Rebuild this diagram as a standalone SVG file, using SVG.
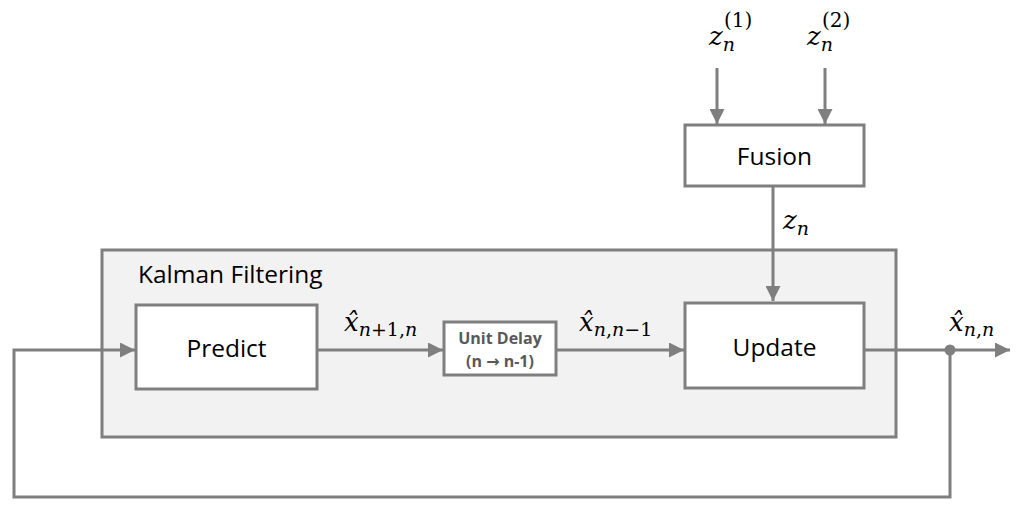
<svg xmlns="http://www.w3.org/2000/svg" width="1021" height="519" viewBox="0 0 1021 519">
<style>
.box{fill:#fff;stroke:#7f7f7f;stroke-width:3}
.ln{fill:none;stroke:#7f7f7f;stroke-width:3}
.lbl{font-family:"Open Sans","Liberation Sans",sans-serif;fill:#000}
.dl{font-family:"Open Sans","Liberation Sans",sans-serif;font-weight:bold;fill:#595959;font-size:16px}
.m{font-family:"DejaVu Serif","Liberation Serif",serif;font-style:italic;fill:#000}
.up{font-style:normal}
</style>
<defs>
<marker id="ah" markerWidth="5" markerHeight="5" refX="5" refY="2.5" orient="auto" markerUnits="strokeWidth">
<path d="M0,0 L5,2.5 L0,5 z" fill="#7f7f7f"/>
</marker>
</defs>
<g id="kalman">
<rect x="102" y="250" width="794" height="187" fill="#f2f2f2" stroke="#7f7f7f" stroke-width="3"/>
<text class="lbl" x="138" y="283" font-size="24.5">Kalman Filtering</text>
</g>
<g id="predict">
<rect class="box" x="136" y="305" width="181" height="84"/>
<text class="lbl" x="226.5" y="357" font-size="24.5" text-anchor="middle">Predict</text>
</g>
<g id="delay">
<rect class="box" x="444" y="322" width="112" height="53"/>
<text class="dl" x="500" y="344" text-anchor="middle">Unit Delay</text>
<text class="dl" x="500" y="367" text-anchor="middle">(n <tspan font-family="DejaVu Sans">→</tspan> n-1)</text>
</g>
<g id="update">
<rect class="box" x="685" y="303" width="179" height="85"/>
<text class="lbl" x="774.5" y="356" font-size="24.5" text-anchor="middle">Update</text>
</g>
<g id="fusion">
<rect class="box" x="685" y="125" width="179" height="61"/>
<text class="lbl" x="774.5" y="165" font-size="24.5" text-anchor="middle">Fusion</text>
</g>
<g id="connectors">
<line class="ln" x1="717" y1="68" x2="717" y2="124" marker-end="url(#ah)"/>
<line class="ln" x1="825" y1="68" x2="825" y2="124" marker-end="url(#ah)"/>
<line class="ln" x1="773" y1="187" x2="773" y2="301" marker-end="url(#ah)"/>
<line class="ln" x1="318" y1="350" x2="443" y2="350" marker-end="url(#ah)"/>
<line class="ln" x1="557" y1="350" x2="684" y2="350" marker-end="url(#ah)"/>
<line class="ln" x1="865" y1="350" x2="1010" y2="350" marker-end="url(#ah)"/>
<polyline class="ln" points="950,350 950,497 14,497 14,350 135,350" marker-end="url(#ah)"/>
<circle cx="950" cy="350" r="5.5" fill="#7f7f7f"/>
</g>
<g id="labels">
<text class="m" x="709" y="45" font-size="26">z<tspan font-size="19" dy="6">n</tspan><tspan class="up" font-size="20" dx="-11" dy="-24">(1)</tspan></text>
<text class="m" x="807" y="45" font-size="26">z<tspan font-size="19" dy="6">n</tspan><tspan class="up" font-size="20" dx="-11" dy="-24">(2)</tspan></text>
<text class="m" x="783" y="229" font-size="26">z<tspan font-size="19" dy="6">n</tspan></text>
<text class="m" x="344" y="331" font-size="26">x̂<tspan font-size="19" dy="5">n</tspan><tspan class="up" font-size="19">+1,</tspan><tspan font-size="19">n</tspan></text>
<text class="m" x="579" y="331" font-size="26">x̂<tspan font-size="19" dy="5">n</tspan><tspan class="up" font-size="19">,</tspan><tspan font-size="19">n</tspan><tspan class="up" font-size="19">−1</tspan></text>
<text class="m" x="949" y="331" font-size="26">x̂<tspan font-size="19" dy="5">n</tspan><tspan class="up" font-size="19">,</tspan><tspan font-size="19">n</tspan></text>
</g>
</svg>
